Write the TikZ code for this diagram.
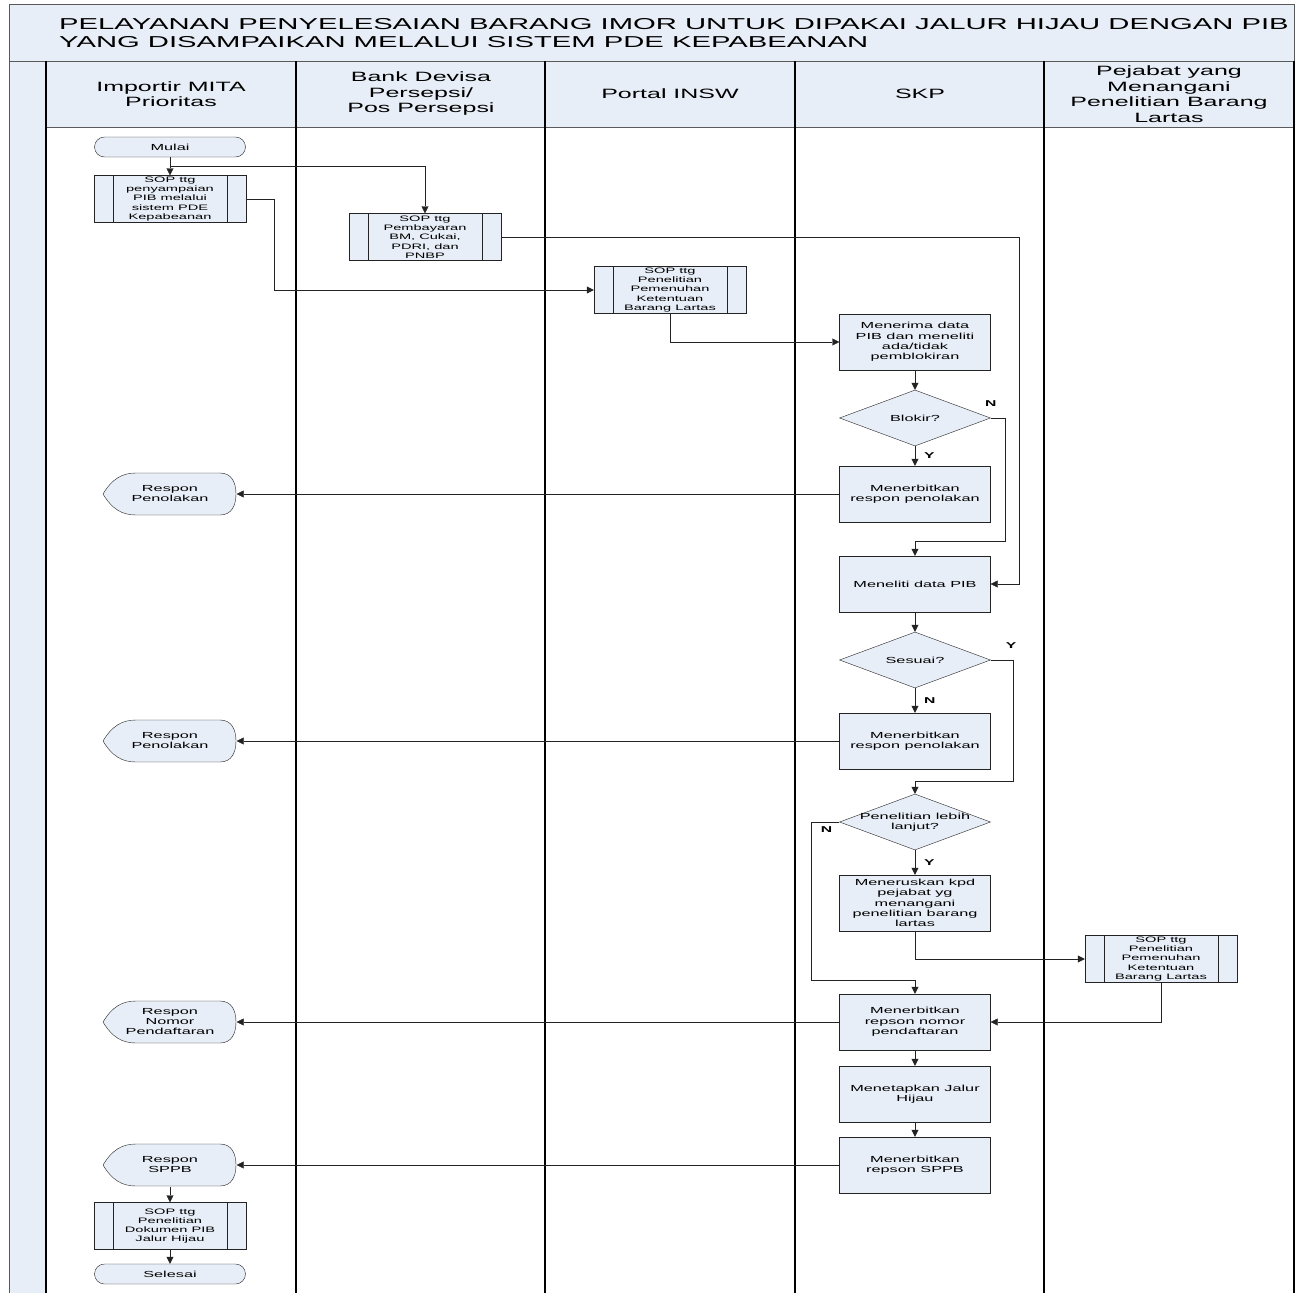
\documentclass[tikz,border=0pt]{standalone}
\usepackage{fontspec}
\setmainfont{Liberation Sans}
\newfontfamily\vsfont[FakeStretch=1.85]{Liberation Sans}
\usetikzlibrary{positioning,arrows.meta,calc,shapes.geometric}
\definecolor{lane}{RGB}{232,238,247}
\definecolor{ink}{RGB}{35,35,35}
\definecolor{rule}{RGB}{90,90,90}
\newcommand{\dispbg}[1]{%
  \draw[draw=ink,fill=lane,shift={(#1)}] (-67,0) .. controls (-58,-15) and (-48,-21) .. (-34,-21)
    -- (50,-21) .. controls (62,-21) and (66,-11) .. (66,0) .. controls (66,11) and (62,21) .. (50,21)
    -- (-34,21) .. controls (-48,21) and (-58,15) .. (-67,0) -- cycle;}
\tikzset{
  proc/.style={draw=ink,fill=lane,align=center,minimum width=151pt,minimum height=56pt,inner sep=1pt,
    font=\vsfont\fontsize{8.8}{10.3}\selectfont},
  sop/.style={proc,minimum width=152pt,minimum height=47pt,font=\vsfont\fontsize{7.9}{9.3}\selectfont,
    path picture={\draw[ink] ([xshift=19pt]path picture bounding box.north west) -- ([xshift=19pt]path picture bounding box.south west)
      ([xshift=-19pt]path picture bounding box.north east) -- ([xshift=-19pt]path picture bounding box.south east);}},
  term/.style={proc,minimum height=20pt,rounded corners=10pt},
  dec/.style={draw=ink,fill=lane,diamond,minimum width=151pt,minimum height=56pt,inner sep=0pt},
  dectxt/.style={align=center,font=\vsfont\fontsize{8.8}{10.3}\selectfont},
  disp/.style={minimum width=133pt,minimum height=43pt,inner sep=0pt,align=center,
    font=\vsfont\fontsize{8.8}{10}\selectfont},
  hd/.style={align=center,font=\vsfont\fontsize{13.5}{15.5}\selectfont},
  yn/.style={inner sep=1pt,font=\vsfont\fontsize{8.5}{9}\selectfont\bfseries},
  flow/.style={draw=ink,-{Triangle[length=7pt,width=7pt]}},
  lanerule/.style={draw=black,line width=1.2pt},
}
\begin{document}
\begin{tikzpicture}[x=1pt,y=-1pt]
  \useasboundingbox (0,0) rectangle (1296,1293);
  % pool and lanes
  \draw[rule,fill=lane] (9,4) rectangle (1294,61);
  \fill[lane] (9,61) rectangle (46,1293);
  \fill[lane] (46,61) rectangle (1294,127);
  \draw[rule] (9,61) -- (1294,61) (46,127) -- (1294,127);
  \draw[rule] (9,61) -- (9,1293);
  \foreach \x in {46,296,545,795,1044,1294}
    \draw[lanerule] (\x,61) -- (\x,1293);
  \node[anchor=west,align=left,inner sep=0pt,font=\vsfont\fontsize{15.8}{18}\selectfont] (ttl) at (59,33)
    {PELAYANAN PENYELESAIAN BARANG IMOR UNTUK DIPAKAI JALUR HIJAU DENGAN PIB\\YANG DISAMPAIKAN MELALUI SISTEM PDE KEPABEANAN};
  \node[hd] (h1) at (171,94) {Importir MITA\\Prioritas};
  \node[hd] (h2) at (421,94) {Bank Devisa\\Persepsi/\\Pos Persepsi};
  \node[hd] (h3) at (670,94) {Portal INSW};
  \node[hd] (h4) at (920,94) {SKP};
  \node[hd] (h5) at (1169,94) {Pejabat yang\\Menangani\\Penelitian Barang\\Lartas};

  % shapes
  \node[term] (mulai) at (170,147) {Mulai};
  \node[sop] (sop1) at (170,199) {SOP ttg\\penyampaian\\PIB melalui\\sistem PDE\\Kepabeanan};
  \node[sop] (sop2) at (425,237) {SOP ttg\\Pembayaran\\BM, Cukai,\\PDRI, dan\\PNBP};
  \node[sop] (sop3) at (670,290) {SOP ttg\\Penelitian\\Pemenuhan\\Ketentuan\\Barang Lartas};
  \node[proc] (terima) at (915,342) {Menerima data\\PIB dan meneliti\\ada/tidak\\pemblokiran};
  \node[dec,label={[dectxt]center:Blokir?}] (blokir) at (915,418) {};
  \node[proc] (tolak1) at (915,494) {Menerbitkan\\respon penolakan};
  \node[proc] (teliti) at (915,584) {Meneliti data PIB};
  \node[dec,label={[dectxt]center:Sesuai?}] (sesuai) at (915,660) {};
  \node[proc] (tolak2) at (915,741) {Menerbitkan\\respon penolakan};
  \node[dec,label={[dectxt]center:Penelitian lebih\\lanjut?}] (lanjut) at (915,822) {};
  \node[proc] (teruskan) at (915,903) {Meneruskan kpd\\pejabat yg\\menangani\\penelitian barang\\lartas};
  \node[sop] (sop4) at (1161,959) {SOP ttg\\Penelitian\\Pemenuhan\\Ketentuan\\Barang Lartas};
  \node[proc] (daftar) at (915,1022) {Menerbitkan\\repson nomor\\pendaftaran};
  \node[proc] (jalur) at (915,1094) {Menetapkan Jalur\\Hijau};
  \node[proc] (sppb) at (915,1165) {Menerbitkan\\repson SPPB};

  \dispbg{170,494}
  \node[disp] (resp1) at (170,494) {Respon\\Penolakan};
  \dispbg{170,741}
  \node[disp] (resp2) at (170,741) {Respon\\Penolakan};
  \dispbg{170,1022}
  \node[disp] (resp3) at (170,1022) {Respon\\Nomor\\Pendaftaran};
  \dispbg{170,1165}
  \node[disp] (resp4) at (170,1165) {Respon\\SPPB};
  \node[sop] (sop5) at (170,1226) {SOP ttg\\Penelitian\\Dokumen PIB\\Jalur Hijau};
  \node[term] (selesai) at (170,1274) {Selesai};

  % connectors
  \coordinate (split) at ($(mulai.south)!0.5!(sop1.north)$);
  \draw[flow] (mulai) -- (sop1);
  \draw[flow] (split) -| (sop2.north);
  \draw[flow] (sop1.east) -- ++(28,0) |- (sop3.west);
  \draw[flow] (sop2.east) -- ++(518,0) |- (teliti.east);
  \draw[flow] (sop3.south) |- (terima.west);
  \draw[flow] (terima) -- (blokir);
  \draw[flow] (blokir) -- node[yn,right=8pt] (by) {Y} (tolak1);
  \draw[flow] (blokir.east) -- ++(14,0) -- ++(0,123) -| (teliti.north);
  \node[yn,above=10pt of blokir.east] (bn) {N};
  \draw[flow] (tolak1) -- (resp1);
  \draw[flow] (teliti) -- (sesuai);
  \draw[flow] (sesuai) -- node[yn,right=8pt] (sn) {N} (tolak2);
  \draw[flow] (sesuai.east) -- ++(22,0) -- ++(0,121) -| (lanjut.north);
  \node[yn,above right=10pt and 14pt of sesuai.east] (sy) {Y};
  \draw[flow] (tolak2) -- (resp2);
  \draw[flow] (lanjut) -- node[yn,right=8pt] (ly) {Y} (teruskan);
  \draw[flow] (lanjut.west) -- ++(-28,0) -- ++(0,158) -| (daftar.north);
  \node[yn,below left=3pt and 6pt of lanjut.west] (ln) {N};
  \draw[flow] (teruskan.south) |- (sop4.west);
  \draw[flow] (sop4.south) |- (daftar.east);
  \draw[flow] (daftar) -- (resp3);
  \draw[flow] (daftar) -- (jalur);
  \draw[flow] (jalur) -- (sppb);
  \draw[flow] (sppb) -- (resp4);
  \draw[flow] (resp4) -- (sop5);
  \draw[flow] (sop5) -- (selesai);
\end{tikzpicture}
\end{document}
